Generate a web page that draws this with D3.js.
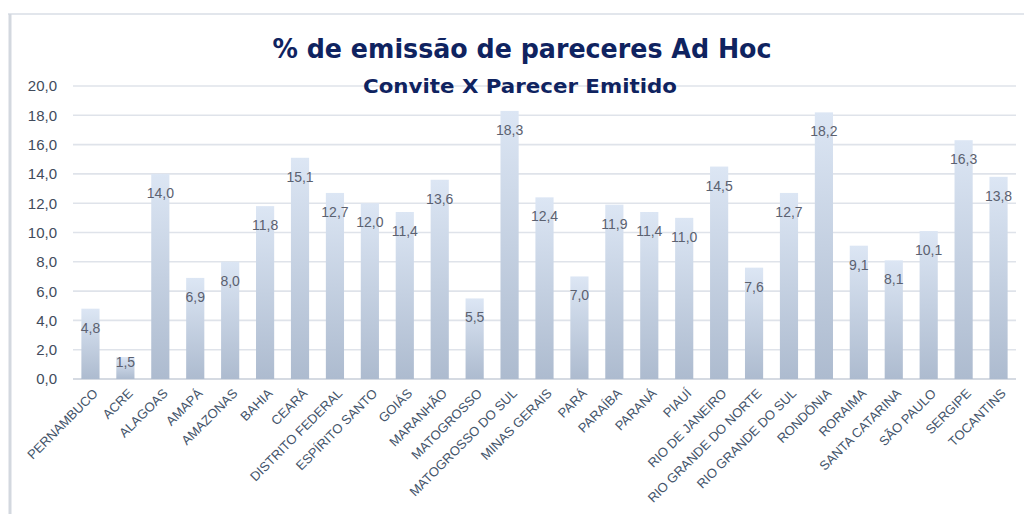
<!DOCTYPE html>
<html>
<head>
<meta charset="utf-8">
<script src="https://cdn.jsdelivr.net/npm/d3@7"></script>
<style>
  html, body { margin: 0; padding: 0; background: #fff; }
  svg { display: block; }
</style>
</head>
<body>
<div id="chartDiv"></div>
<script>
// Chart data
var estados = ["PERNAMBUCO", "ACRE", "ALAGOAS", "AMAPÁ", "AMAZONAS", "BAHIA", "CEARÁ",
  "DISTRITO FEDERAL", "ESPÍRITO SANTO", "GOIÁS", "MARANHÃO", "MATOGROSSO",
  "MATOGROSSO DO SUL", "MINAS GERAIS", "PARÁ", "PARAÍBA", "PARANÁ", "PIAUÍ",
  "RIO DE JANEIRO", "RIO GRANDE DO NORTE", "RIO GRANDE DO SUL", "RONDÔNIA",
  "RORAIMA", "SANTA CATARINA", "SÃO PAULO", "SERGIPE", "TOCANTINS"];
var percentuais = [4.8, 1.5, 14.0, 6.9, 8.0, 11.8, 15.1, 12.7, 12.0, 11.4, 13.6, 5.5,
  18.3, 12.4, 7.0, 11.9, 11.4, 11.0, 14.5, 7.6, 12.7, 18.2, 9.1, 8.1, 10.1, 16.3, 13.8];
var yTicks = [0, 2, 4, 6, 8, 10, 12, 14, 16, 18, 20];

var titulo = "% de emissão de pareceres Ad Hoc";
var subtitulo = "Convite X Parecer Emitido";

var width = 1024, height = 514;
var plot = {left: 73, right: 1016, top: 86, bottom: 379};

var fmt = function(v) { return d3.format(".1f")(v).replace(".", ","); };

var svg = d3.select("#chartDiv")
    .append("svg")
    .attr("width", width)
    .attr("height", height);

// gradient used by every bar
var grad = svg.append("defs").append("linearGradient")
    .attr("id", "barGrad")
    .attr("x1", 0).attr("y1", 0).attr("x2", 0).attr("y2", 1);
grad.append("stop").attr("offset", "0%").attr("stop-color", "#dce6f4");
grad.append("stop").attr("offset", "100%").attr("stop-color", "#adbbcf");

// chart frame (top + left edge visible)
svg.append("line")
    .attr("x1", 8).attr("x2", width).attr("y1", 14).attr("y2", 14)
    .attr("stroke", "#e2e6ec").attr("stroke-width", 2);
svg.append("line")
    .attr("x1", 10).attr("x2", 10).attr("y1", 14).attr("y2", height)
    .attr("stroke", "#d3d8df").attr("stroke-width", 3);

var x = d3.scaleBand()
    .domain(estados)
    .range([plot.left, plot.right])
    .paddingInner(0.48)
    .paddingOuter(0.24);

var y = d3.scaleLinear()
    .domain([0, 20])
    .range([plot.bottom, plot.top]);

// gridlines
svg.append("g")
    .selectAll("line")
    .data(yTicks)
    .enter()
    .append("line")
    .attr("x1", plot.left).attr("x2", plot.right)
    .attr("y1", function(d) { return y(d); })
    .attr("y2", function(d) { return y(d); })
    .attr("stroke", function(d) { return d === 0 ? "#d5dae2" : "#dfe3ea"; })
    .attr("stroke-width", function(d) { return d === 0 ? 2 : 1.6; });

// y tick labels
svg.append("g")
    .selectAll("text")
    .data(yTicks)
    .enter()
    .append("text")
    .attr("x", 57)
    .attr("y", function(d) { return y(d); })
    .attr("dy", "0.36em")
    .attr("text-anchor", "end")
    .style("font-family", "'Liberation Sans', Arial, sans-serif")
    .style("font-size", "15px")
    .style("fill", "#414b5c")
    .text(fmt);

// title
svg.append("text")
    .attr("x", 522).attr("y", 58)
    .attr("text-anchor", "middle")
    .attr("textLength", 499)
    .attr("lengthAdjust", "spacingAndGlyphs")
    .style("font-family", "'DejaVu Sans', sans-serif")
    .style("font-weight", "bold")
    .style("font-size", "27px")
    .style("fill", "#0f2360")
    .text(titulo);

svg.append("text")
    .attr("x", 520).attr("y", 93)
    .attr("text-anchor", "middle")
    .attr("textLength", 314)
    .attr("lengthAdjust", "spacingAndGlyphs")
    .style("font-family", "'DejaVu Sans', sans-serif")
    .style("font-weight", "bold")
    .style("font-size", "20px")
    .style("fill", "#0f2360")
    .text(subtitulo);

// bars
var bars = svg.append("g")
    .selectAll("rect")
    .data(percentuais)
    .enter()
    .append("rect")
    .attr("x", function(d, i) { return x(estados[i]); })
    .attr("y", function(d) { return y(d); })
    .attr("width", x.bandwidth())
    .attr("height", function(d) { return y(0) - y(d); })
    .attr("fill", "url(#barGrad)");

// value labels, inside end of each bar
svg.append("g")
    .selectAll("text")
    .data(percentuais)
    .enter()
    .append("text")
    .attr("x", function(d, i) { return x(estados[i]) + x.bandwidth() / 2; })
    .attr("y", function(d) { return Math.min(y(d) + 19, y(0) - 17); })
    .attr("dy", "0.36em")
    .attr("text-anchor", "middle")
    .style("font-family", "'Liberation Sans', Arial, sans-serif")
    .style("font-size", "14px")
    .style("fill", "#5b6170")
    .text(fmt);

// category labels, rotated
svg.append("g")
    .selectAll("text")
    .data(estados)
    .enter()
    .append("text")
    .attr("transform", function(d) {
        return "translate(" + (x(d) + x.bandwidth() / 2 + 5) + "," + (plot.bottom + 12) + ") rotate(-45)";
    })
    .attr("text-anchor", "end")
    .attr("dy", "0.35em")
    .style("font-family", "'Liberation Sans', Arial, sans-serif")
    .style("font-size", "13px")
    .style("fill", "#44546a")
    .text(function(d) { return d; });
</script>
</body>
</html>
